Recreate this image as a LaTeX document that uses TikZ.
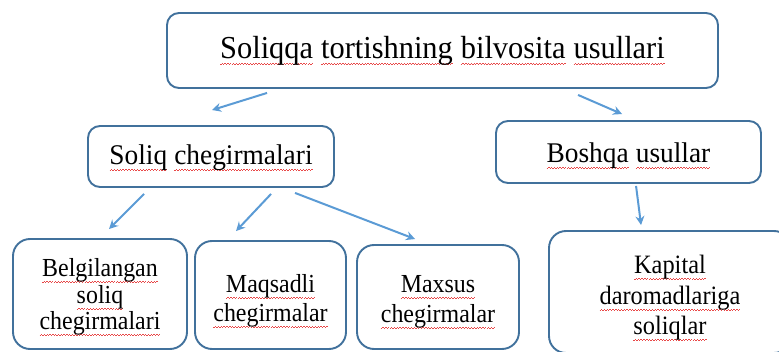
\documentclass[tikz,border=0pt]{standalone}
\usepackage{fontspec}
\setmainfont{Liberation Serif}
\usetikzlibrary{arrows.meta}
\definecolor{boxblue}{HTML}{41719C}
\definecolor{arrblue}{HTML}{5B9BD5}
\definecolor{squig}{HTML}{E84848}
\newcommand\wavecell{\hbox{\rule[-0.5pt]{1.4pt}{0.9pt}\rule[0.4pt]{1.4pt}{0.9pt}}}
\newcommand\sqfactor{0.92}
\newcommand\sqw[1]{\setbox0=\hbox{\scalebox{\sqfactor}[1]{#1}}\leavevmode\rlap{\raisebox{-5.5pt}[0pt][0pt]{\textcolor{squig}{\hbox to \wd0{\xleaders\wavecell\hfil}}}}\box0}
\tikzset{
  boxbase/.style={draw=boxblue, line width=1.9pt, fill=white, inner sep=0pt, text depth=0pt},
  topbox/.style={boxbase, rounded corners=12pt, font=\fontsize{32}{36}\selectfont\renewcommand\sqfactor{0.95}},
  midbox/.style={boxbase, rounded corners=12pt, font=\fontsize{28.5}{32}\selectfont\renewcommand\sqfactor{0.96}},
  lowbox/.style={boxbase, rounded corners=17pt},
  arr/.style={draw=arrblue, line width=2pt, -{Stealth[length=9pt,width=9pt,inset=3pt]}}
}
\begin{document}
\begin{tikzpicture}[x=1pt,y=-1pt]
\useasboundingbox (0,0) rectangle (779,352);
\node[topbox, minimum width=551, minimum height=75, text height=17pt] (top) at (442.5,50.5)
  {\sqw{Soliqqa}\ \sqw{tortishning}\ \sqw{bilvosita}\ \sqw{usullari}};
\node[midbox, minimum width=246, minimum height=61, text height=17pt] (soliq) at (211,156.5)
  {\sqw{Soliq}\ \sqw{chegirmalari}};
\node[midbox, minimum width=265, minimum height=62, text height=22pt] (boshqa) at (628.5,152)
  {\sqw{Boshqa}\ \sqw{usullar}};
\node[lowbox, minimum width=174, minimum height=110, text height=72pt,
      font=\fontsize{26}{26.5}\selectfont] (belg) at (100,294)
  {\begin{tabular}[b]{@{}c@{}}\sqw{Belgilangan}\\ \sqw{soliq}\\ \sqw{chegirmalari}\end{tabular}};
\node[lowbox, minimum width=151, minimum height=108, text height=54pt,
      font=\fontsize{26}{29}\selectfont] (maqs) at (270.5,295)
  {\begin{tabular}[b]{@{}c@{}}\sqw{Maqsadli}\\ \sqw{chegirmalar}\end{tabular}};
\node[lowbox, minimum width=162, minimum height=104, text height=52pt,
      font=\fontsize{26}{30}\selectfont] (maxs) at (438,297)
  {\begin{tabular}[b]{@{}c@{}}\sqw{Maxsus}\\ \sqw{chegirmalar}\end{tabular}};
\node[lowbox, minimum width=242, minimum height=122, text height=86pt,
      font=\fontsize{26.5}{30.5}\selectfont] (kap) at (670,292)
  {\begin{tabular}[b]{@{}c@{}}\sqw{Kapital}\\ \sqw{daromadlariga}\\ \sqw{soliqlar}\end{tabular}};
\draw[arr] ([shift={(101,4)}]top.south west) -- ([shift={(125,-15)}]soliq.north west);
\draw[arr] ([shift={(412,6)}]top.south west) -- ([shift={(127,-6)}]boshqa.north west);
\draw[arr] ([shift={(57,6)}]soliq.south west) -- ([shift={(97,-9)}]belg.north west);
\draw[arr] ([shift={(184,6)}]soliq.south west) -- ([shift={(42,-9)}]maqs.north west);
\draw[arr] ([shift={(208,5)}]soliq.south west) -- ([shift={(59,-5)}]maxs.north west);
\draw[arr] ([shift={(141,2)}]boshqa.south west) -- ([shift={(93,-5)}]kap.north west);
\end{tikzpicture}
\end{document}
